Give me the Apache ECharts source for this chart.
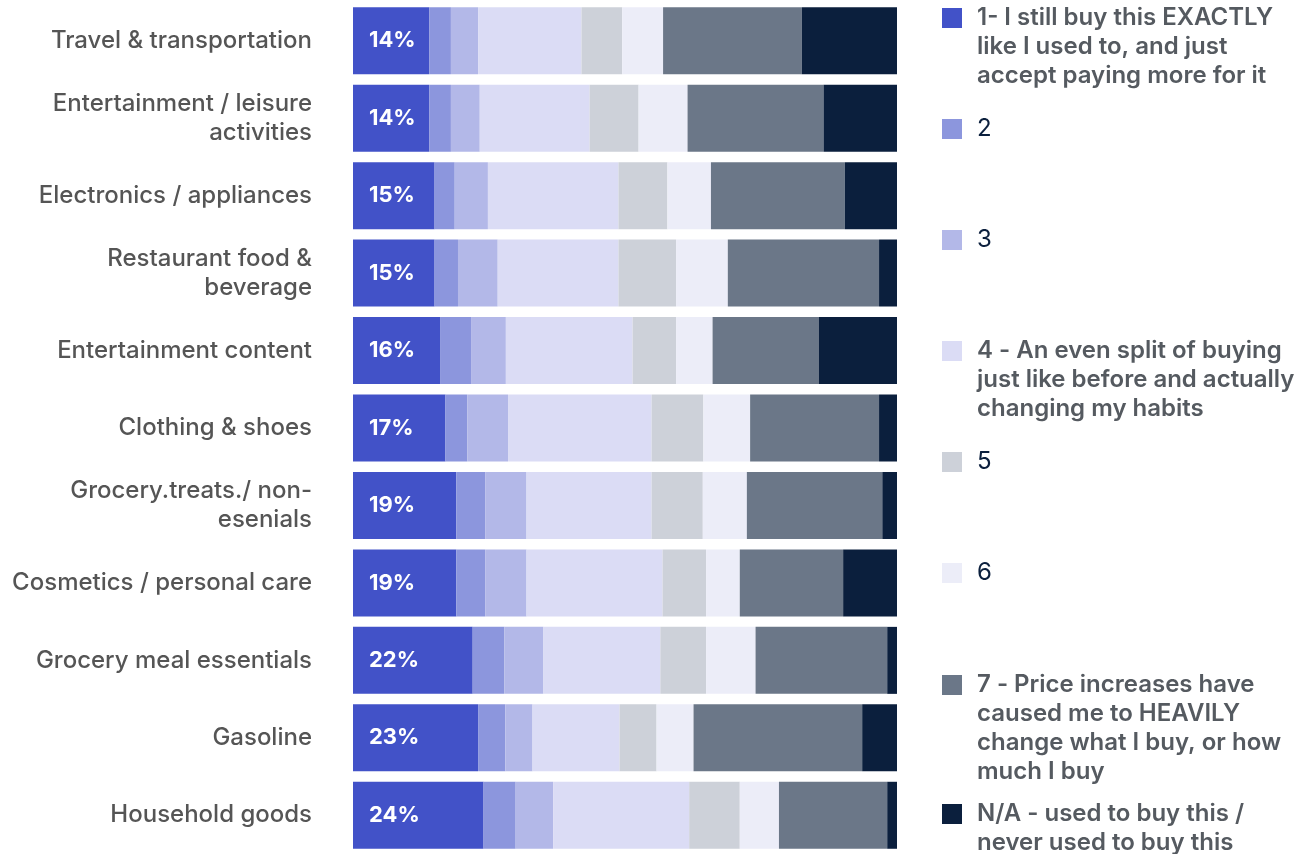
<!DOCTYPE html>
<html>
<head>
<meta charset="utf-8">
<script src="https://cdn.jsdelivr.net/npm/echarts@6/dist/echarts.min.js"></script>
<style>
  html, body { margin: 0; padding: 0; background: #fff; }
  #chart { width: 1305px; height: 854px; }
</style>
</head>
<body>
<div id="chart"></div>
<script>
// categories, top to bottom
var categories = [
  'Travel & transportation',
  'Entertainment / leisure\nactivities',
  'Electronics / appliances',
  'Restaurant food &\nbeverage',
  'Entertainment content',
  'Clothing & shoes',
  'Grocery.treats./ non-\nesenials',
  'Cosmetics / personal care',
  'Grocery meal essentials',
  'Gasoline',
  'Household goods'
];

// share of respondents (%) per answer, same order as categories
var s1 = [14, 14, 15, 15, 16, 17, 19, 19, 22, 23, 24];
var s2 = [4, 4, 3.7, 4.3, 5.7, 4, 5.3, 5.3, 5.8, 5, 5.9];
var s3 = [5, 5.3, 6.1, 7.3, 6.4, 7.5, 7.6, 7.6, 7.2, 5, 6.9];
var s4 = [19, 20.2, 24, 22.2, 23.3, 26.4, 23, 25, 21.5, 16, 25];
var s5 = [7.5, 9, 9, 10.6, 8, 9.5, 9.4, 8, 8.4, 6.8, 9.3];
var s6 = [7.5, 9, 8, 9.5, 6.7, 8.6, 8.1, 6.2, 9.1, 6.8, 7.2];
var s7 = [25.5, 25, 24.6, 27.8, 19.5, 23.7, 24.9, 19, 24.2, 31, 19.9];
var sNA = [17.5, 13.5, 9.6, 3.3, 14.4, 3.3, 2.7, 9.9, 1.8, 6.4, 1.8];

var seriesNames = ['1', '2', '3', '4', '5', '6', '7', 'N/A'];
var legendLabels = [
  '1- I still buy this EXACTLY\nlike I used to, and just\naccept paying more for it',
  '2',
  '3',
  '4 - An even split of buying\njust like before and actually\nchanging my habits',
  '5',
  '6',
  '7 - Price increases have\ncaused me to HEAVILY\nchange what I buy, or how\nmuch I buy',
  'N/A - used to buy this /\nnever used to buy this'
];
var colors = ['#4252c8', '#8c96dd', '#b3b8e8', '#dbdcf5', '#cdd1d9', '#ecedf8', '#6b7788', '#0b1f3d'];
var allData = [s1, s2, s3, s4, s5, s6, s7, sNA];

// top of each legend square
var legendTops = [8, 119, 230, 341, 452, 563, 675, 804];
var FONT = 'Inter, "Noto Sans", sans-serif';
var LH = 29;

var chart = echarts.init(document.getElementById('chart'));

var series = seriesNames.map(function (name, i) {
  var s = {
    name: name,
    type: 'bar',
    stack: 'total',
    barWidth: 67,
    itemStyle: { color: colors[i] },
    emphasis: { disabled: true },
    data: allData[i]
  };
  if (i === 0) {
    s.label = {
      show: true,
      position: 'insideLeft',
      distance: 16,
      color: '#fff',
      fontFamily: FONT,
      fontSize: 22,
      fontWeight: 'bold',
      formatter: function (p) { return Math.round(p.value) + '%'; }
    };
  }
  return s;
});

// one legend per item so each can sit at its own height.
// legend text is centred on the square, so blank lines are put in
// front to bring the first real line level with it
var legends = seriesNames.map(function (name, i) {
  var lines = legendLabels[i].split('\n').length;
  var strong = lines > 1;
  var pad = new Array(lines).join('\n');
  var boxTop = 10 - (2 * lines - 1) * LH / 2;
  return {
    top: legendTops[i] + Math.min(0, boxTop),
    left: 942,
    padding: 0,
    orient: 'vertical',
    icon: 'rect',
    itemWidth: 20,
    itemHeight: 20,
    selectedMode: false,
    data: [name],
    formatter: function () { return pad + legendLabels[i]; },
    textStyle: {
      fontFamily: FONT,
      fontSize: 24,
      lineHeight: LH,
      fontWeight: strong ? 600 : 'normal',
      color: strong ? '#555a60' : '#0b1f3d',
      padding: [0, 0, 0, 10]
    }
  };
});

chart.setOption({
  animation: false,
  grid: { left: 353, right: 408, top: 2, bottom: -2 },
  xAxis: {
    type: 'value',
    min: 0,
    max: 100,
    show: false
  },
  yAxis: {
    type: 'category',
    inverse: true,
    data: categories,
    axisLine: { show: false },
    axisTick: { show: false },
    axisLabel: {
      margin: 41,
      fontFamily: FONT,
      fontSize: 24,
      lineHeight: LH,
      fontWeight: 500,
      color: '#555'
    }
  },
  legend: legends,
  series: series
});
</script>
</body>
</html>
